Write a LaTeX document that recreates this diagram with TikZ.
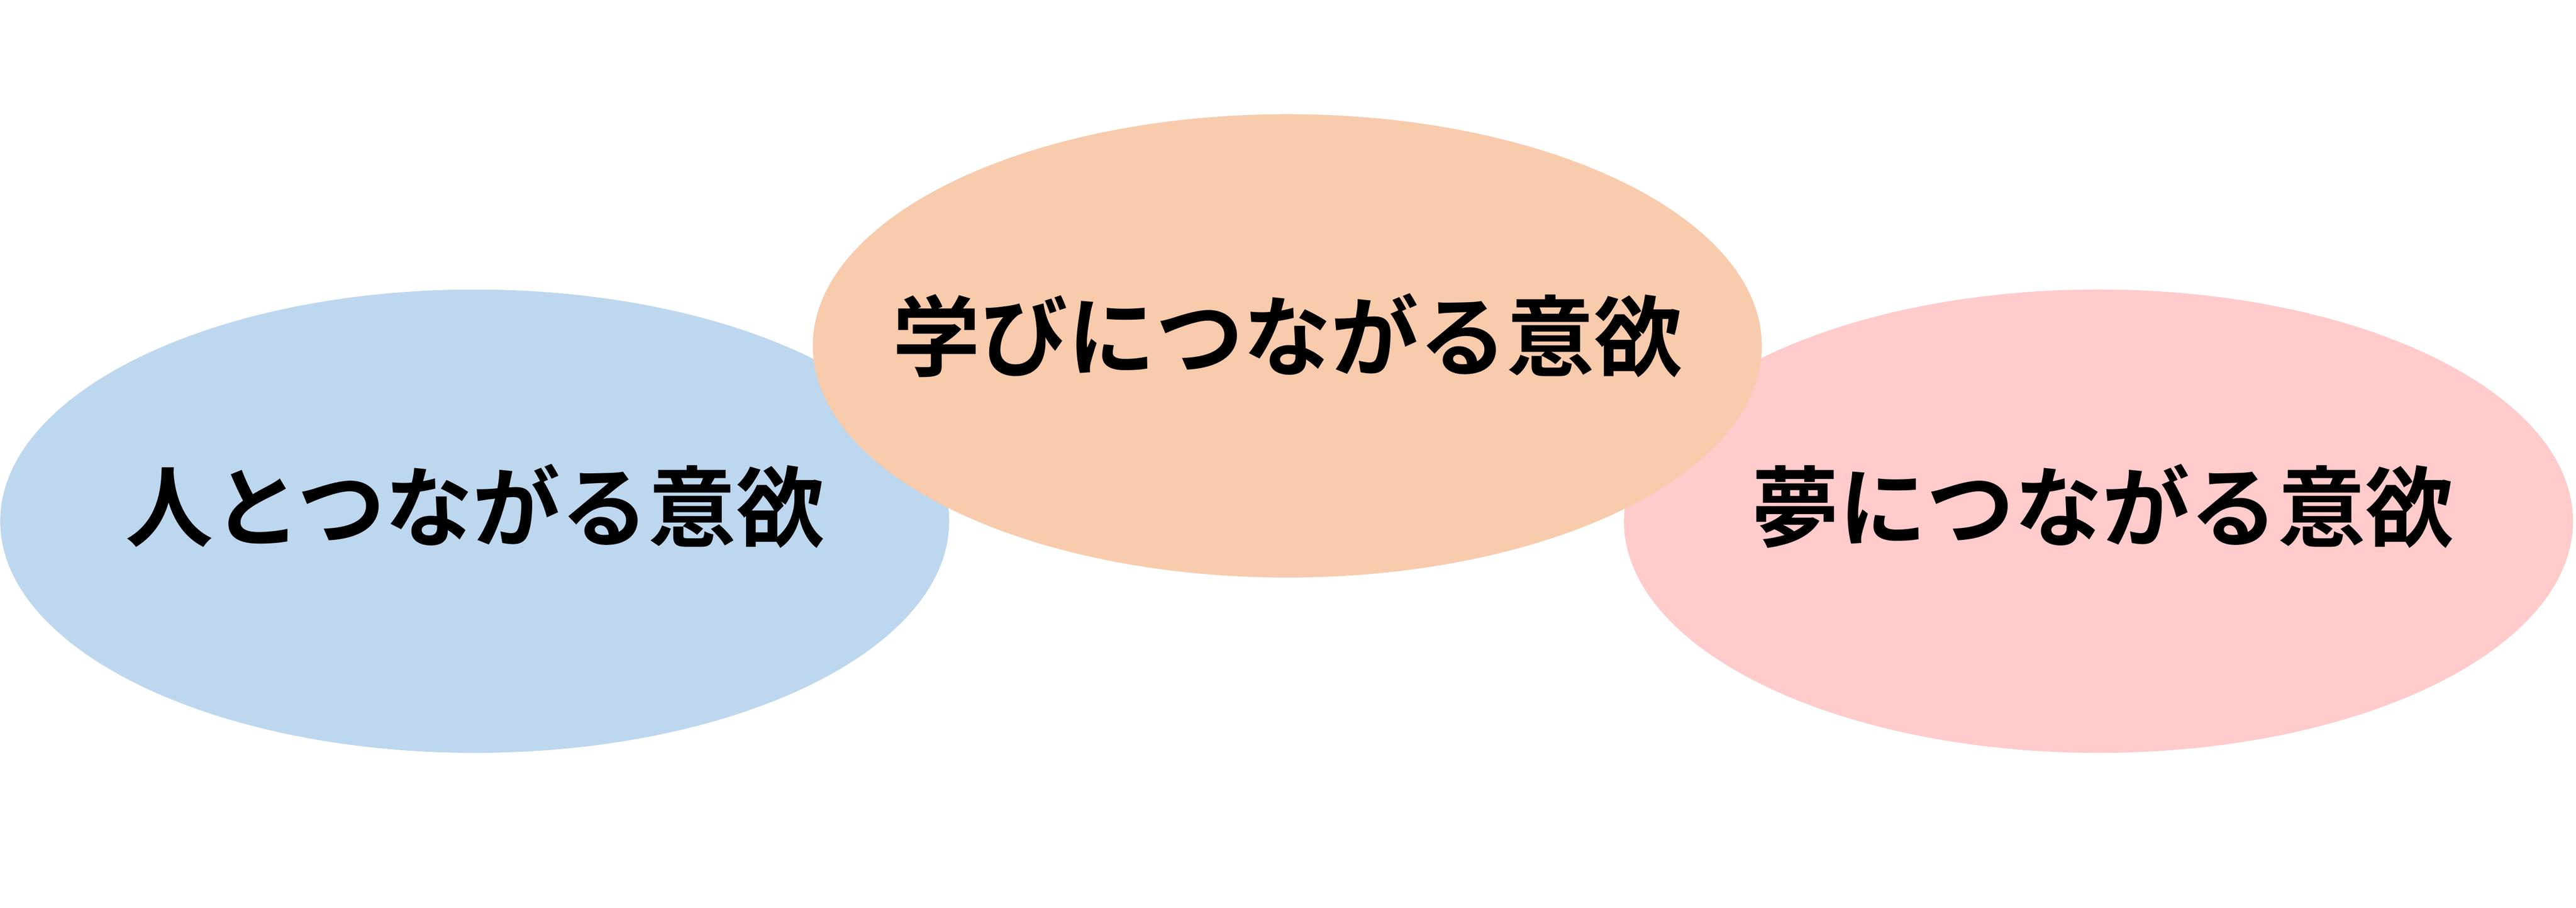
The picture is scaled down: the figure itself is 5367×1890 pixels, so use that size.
\documentclass[tikz,border=0pt]{standalone}
\usepackage{fontspec}
\usetikzlibrary{shapes.geometric}
\newfontfamily\jpfont{Noto Sans CJK JP}[BoldFont={Noto Sans CJK JP Bold}]
\definecolor{motiblue}{HTML}{BDD7EE}
\definecolor{motiorange}{HTML}{F8CBAD}
\definecolor{motipink}{HTML}{FFCBCB}
\begin{document}
\begin{tikzpicture}[x=0.01cm,y=0.01cm,
   blob/.style={ellipse, inner sep=0pt, minimum width=19.76cm, minimum height=9.64cm},
   motive/.style={font=\jpfont\bfseries\fontsize{52}{60}\selectfont, inner sep=0pt}]
   \useasboundingbox (0,0) rectangle (5367,1890);
   \node[blob, fill=motiblue] (people) at (989,805) {};
   \node[blob, fill=motipink] (dream) at (4372,805) {};
   \node[blob, fill=motiorange] (learn) at (2682,1170) {};
   \node[motive] (peopletext) at ([yshift=0.31cm]people.center) {人とつながる意欲};
   \node[motive] (learntext) at ([yshift=0.22cm]learn.center) {学びにつながる意欲};
   \node[motive] (dreamtext) at ([xshift=0.08cm,yshift=0.31cm]dream.center) {夢につながる意欲};
  \end{tikzpicture}
\end{document}
